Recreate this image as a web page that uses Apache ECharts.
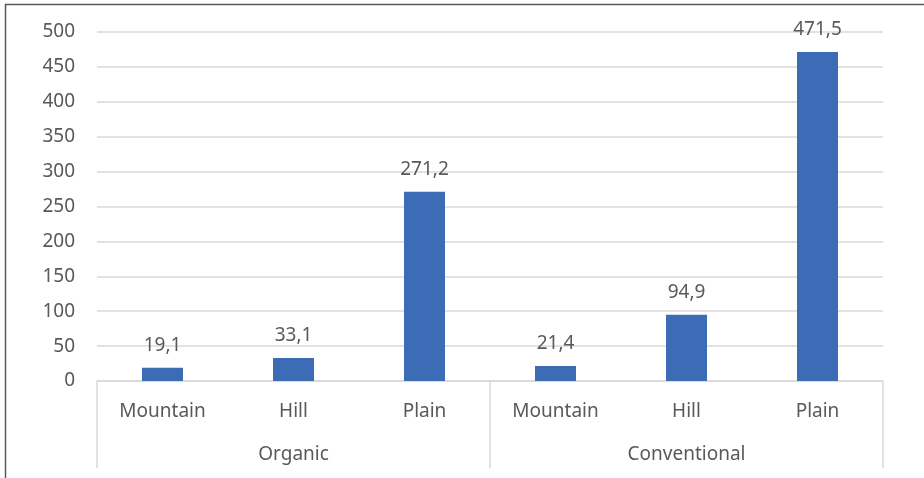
<!DOCTYPE html>
<html><head><meta charset="utf-8">
<script src="https://cdn.jsdelivr.net/npm/echarts@6/dist/echarts.min.js"></script>
<style>html,body{margin:0;padding:0;background:#fff}#c{width:924px;height:478px}</style>
</head><body><div id="c"></div>
<script>
const categories = ['Mountain','Hill','Plain','Mountain','Hill','Plain'];
const groups = ['Organic','Conventional'];
const values = [19.1, 33.1, 271.2, 21.4, 94.9, 471.5];
const yTicks = {min:0, max:500, interval:50};

const chart = echarts.init(document.getElementById('c'));
const font = 'Noto Sans';
const txt = '#595959';
const grid = '#d9d9d9';
const fs = 19;
chart.setOption({
  backgroundColor:'#fff',
  animation:false,
  grid:{left:97,right:41,top:32,bottom:97},
  graphic:[
    {type:'line',shape:{x1:5,y1:4.5,x2:924,y2:4.5},style:{stroke:'#595959',lineWidth:1.5}},
    {type:'line',shape:{x1:5.5,y1:4,x2:5.5,y2:478},style:{stroke:'#595959',lineWidth:1.5}}
  ],
  xAxis:[
    {type:'category',data:categories,position:'bottom',
     axisLine:{lineStyle:{color:grid,width:1.5}},
     axisTick:{show:false},
     axisLabel:{color:txt,fontFamily:font,fontSize:fs,margin:21,interval:0}},
    {type:'category',data:groups,position:'bottom',
     axisLine:{show:false},
     axisTick:{show:true,length:87,lineStyle:{color:grid,width:1.5}},
     axisLabel:{color:txt,fontFamily:font,fontSize:fs,margin:64,interval:0}}
  ],
  yAxis:{type:'value',min:yTicks.min,max:yTicks.max,interval:yTicks.interval,
    axisLine:{show:false},axisTick:{show:false},
    splitLine:{lineStyle:{color:grid,width:1.5}},
    axisLabel:{color:txt,fontFamily:font,fontSize:fs,margin:22}},
  series:[{type:'bar',xAxisIndex:0,data:values,barWidth:41,
    itemStyle:{color:'#3d6cb7'},
    label:{show:true,position:'top',distance:13,color:txt,fontFamily:font,fontSize:fs,
      formatter:p=>String(p.value).replace('.',',')}}]
});
</script></body></html>
